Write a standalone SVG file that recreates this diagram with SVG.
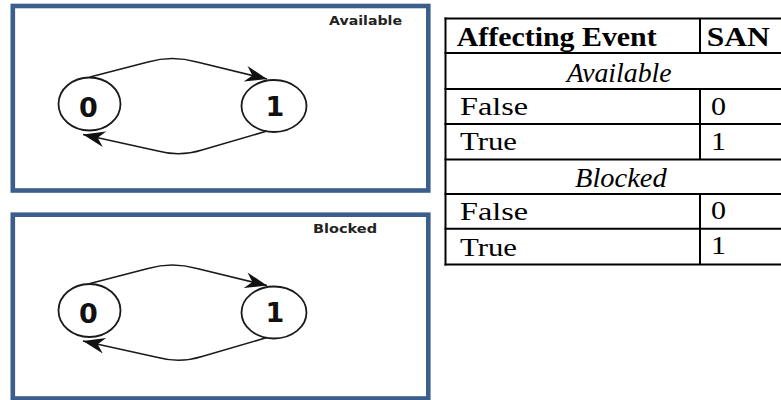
<svg xmlns="http://www.w3.org/2000/svg" width="781" height="400" viewBox="0 0 781 400">
  <style>
    .panel { fill: #ffffff; stroke: #3b5e8c; stroke-width: 4.6; }
    .state { fill: #ffffff; stroke: #1a1a1a; stroke-width: 1.8; }
    .digit { font-family: "DejaVu Sans", "Liberation Sans", sans-serif; font-weight: bold; font-size: 27px; fill: #111; text-anchor: middle; }
    .plabel { font-family: "DejaVu Sans", "Liberation Sans", sans-serif; font-weight: bold; font-size: 11.5px; fill: #222; }
    .edge { fill: none; stroke: #1a1a1a; stroke-width: 1.6; marker-end: url(#arrow); }
    .grid { stroke: #000; stroke-width: 2; fill: none; }
    .cell { font-family: "Liberation Serif", "Times New Roman", serif; font-size: 26px; fill: #000; }
    .head { font-family: "Liberation Serif", "Times New Roman", serif; font-size: 28px; font-weight: bold; fill: #000; }
    .sect { font-family: "Liberation Serif", "Times New Roman", serif; font-size: 27px; font-style: italic; fill: #000; }
  </style>
  <defs>
    <marker id="arrow" markerUnits="userSpaceOnUse" viewBox="-23 -9 24 18" refX="0" refY="0" markerWidth="24" markerHeight="18" orient="auto" overflow="visible">
      <path d="M0,0 L-22,-8 L-15,0 L-22,8 Z" fill="#111"/>
    </marker>
  </defs>
  <rect width="781" height="400" fill="#ffffff"/>

  <!-- Available panel -->
  <g id="panel-available">
    <rect class="panel" x="12.8" y="6" width="415.5" height="184.5"/>
    <text class="plabel" x="329" y="25" textLength="73" lengthAdjust="spacingAndGlyphs">Available</text>
    <g id="available-state-0">
      <ellipse class="state" cx="89.5" cy="104" rx="31" ry="26.5"/>
      <text class="digit" x="88.5" y="116.5">0</text>
    </g>
    <g id="available-state-1">
      <ellipse class="state" cx="274" cy="106" rx="32.5" ry="26"/>
      <text class="digit" x="275" y="115.5">1</text>
    </g>
    <g id="available-connectors">
      <path class="edge" d="M90,77 L148,62 Q172,55 197,62 L267,79"/>
      <path class="edge" d="M267,131 L202,150 Q180,157 158,151 L83,134.5"/>
    </g>
  </g>

  <!-- Blocked panel -->
  <g id="panel-blocked">
    <rect class="panel" x="12.8" y="214.7" width="415.5" height="183.8"/>
    <text class="plabel" x="313" y="233.3" textLength="64" lengthAdjust="spacingAndGlyphs">Blocked</text>
    <g transform="translate(0,206.5)">
      <g id="blocked-state-0">
        <ellipse class="state" cx="89.5" cy="104" rx="31" ry="26.5"/>
        <text class="digit" x="88.5" y="116.5">0</text>
      </g>
      <g id="blocked-state-1">
        <ellipse class="state" cx="274" cy="106" rx="32.5" ry="26"/>
        <text class="digit" x="275" y="115.5">1</text>
      </g>
      <g id="blocked-connectors">
        <path class="edge" d="M90,77 L148,62 Q172,55 197,62 L267,79"/>
        <path class="edge" d="M267,131 L202,150 Q180,157 158,151 L83,134.5"/>
      </g>
    </g>
  </g>

  <!-- Table -->
  <g id="table">
    <g class="grid">
      <line x1="445.5" y1="17.5" x2="445.5" y2="265.5"/>
      <line x1="444.5" y1="18.5" x2="782" y2="18.5"/>
      <line x1="444.5" y1="53" x2="782" y2="53"/>
      <line x1="444.5" y1="89" x2="782" y2="89"/>
      <line x1="444.5" y1="124" x2="782" y2="124"/>
      <line x1="444.5" y1="159.5" x2="782" y2="159.5"/>
      <line x1="444.5" y1="194" x2="782" y2="194"/>
      <line x1="444.5" y1="228.8" x2="782" y2="228.8"/>
      <line x1="444.5" y1="264.5" x2="782" y2="264.5"/>
      <line x1="700" y1="18.5" x2="700" y2="53"/>
      <line x1="700" y1="89" x2="700" y2="159.5"/>
      <line x1="700" y1="194" x2="700" y2="264.5"/>
    </g>
    <text class="head" x="456.7" y="46" textLength="200" lengthAdjust="spacingAndGlyphs">Affecting Event</text>
    <text class="head" x="706.7" y="46" textLength="63" lengthAdjust="spacingAndGlyphs">SAN</text>
    <text class="sect" x="566.7" y="81.7" textLength="105" lengthAdjust="spacingAndGlyphs">Available</text>
    <text class="cell" x="460" y="114.8" textLength="68" lengthAdjust="spacingAndGlyphs">False</text>
    <text class="cell" x="711" y="114.8" textLength="15" lengthAdjust="spacingAndGlyphs">0</text>
    <text class="cell" x="460" y="150" textLength="57" lengthAdjust="spacingAndGlyphs">True</text>
    <text class="cell" x="711" y="150" textLength="15" lengthAdjust="spacingAndGlyphs">1</text>
    <text class="sect" x="575" y="186.7" textLength="91.7" lengthAdjust="spacingAndGlyphs">Blocked</text>
    <text class="cell" x="460" y="220" textLength="68" lengthAdjust="spacingAndGlyphs">False</text>
    <text class="cell" x="711" y="219" textLength="15" lengthAdjust="spacingAndGlyphs">0</text>
    <text class="cell" x="460" y="255.5" textLength="57" lengthAdjust="spacingAndGlyphs">True</text>
    <text class="cell" x="711" y="254" textLength="15" lengthAdjust="spacingAndGlyphs">1</text>
  </g>
</svg>
